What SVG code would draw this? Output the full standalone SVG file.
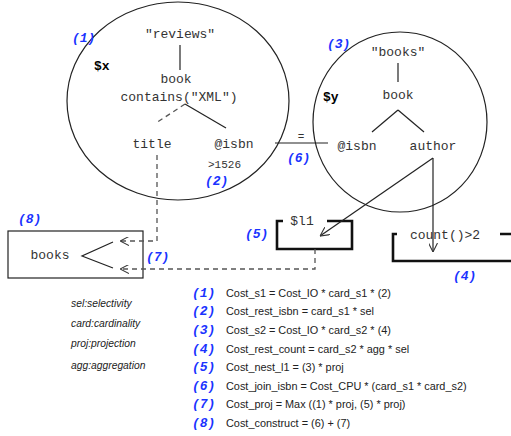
<svg xmlns="http://www.w3.org/2000/svg" width="511" height="436" viewBox="0 0 511 436">
<defs>
<marker id="arr" viewBox="0 0 10 10" refX="10" refY="5" markerWidth="9" markerHeight="9" orient="auto" markerUnits="userSpaceOnUse">
<path d="M0,0 L10,5 L0,10" fill="none" stroke="#333" stroke-width="1.2"/>
</marker>
</defs>
<style>
.m{font-family:"Liberation Mono",monospace;font-size:13px;fill:#333}
.ms{font-family:"Liberation Mono",monospace;font-size:11px;fill:#333}
.var{font-family:"Liberation Mono",monospace;font-size:13px;font-weight:bold;fill:#000}
.lbl{font-family:"Liberation Mono",monospace;font-size:13px;font-weight:bold;font-style:italic;fill:#1a33ff}
.leg{font-family:"Liberation Sans",Arial,sans-serif;font-size:10.3px;font-style:italic;fill:#222}
.eq{font-family:"Liberation Sans",Arial,sans-serif;font-size:10.9px;fill:#222}
.ln{stroke:#222;stroke-width:1.2;fill:none}
.dash{stroke:#555;stroke-width:1.3;fill:none;stroke-dasharray:5,4}
.box{stroke:#111;stroke-width:2.6;fill:none}
</style>
<rect width="511" height="436" fill="#fff"/>

<g id="s1">
<ellipse cx="178" cy="101" rx="111" ry="99" class="ln"/>
<text x="72" y="42" class="lbl">(1)</text>
<text x="94" y="70" class="var">$x</text>
<text x="180" y="38" class="m" text-anchor="middle">"reviews"</text>
<line x1="180" y1="45" x2="180" y2="70" class="ln"/>
<text x="176" y="83" class="m" text-anchor="middle">book</text>
<text x="179" y="101" class="m" font-size="12.5" text-anchor="middle">contains("XML")</text>
<line x1="185" y1="104" x2="156" y2="123" class="dash" stroke-dasharray="4,4"/>
<line x1="185" y1="104" x2="226" y2="128" class="ln"/>
<text x="152" y="148" class="m" text-anchor="middle">title</text>
<text x="234" y="148" class="m" text-anchor="middle">@isbn</text>
<text x="208" y="168" class="ms">&gt;1526</text>
<text x="205" y="185" class="lbl">(2)</text>
</g>

<g id="s2">
<ellipse cx="400" cy="122" rx="87" ry="90" class="ln"/>
<text x="327" y="48" class="lbl">(3)</text>
<text x="323" y="101" class="var">$y</text>
<text x="398" y="56" class="m" text-anchor="middle">"books"</text>
<line x1="398" y1="63" x2="398" y2="82" class="ln"/>
<text x="398" y="99" class="m" text-anchor="middle">book</text>
<line x1="398" y1="110" x2="372" y2="132" class="ln"/>
<line x1="398" y1="110" x2="424" y2="132" class="ln"/>
<text x="357" y="150" class="m" text-anchor="middle">@isbn</text>
<text x="433" y="150" class="m" text-anchor="middle">author</text>
</g>

<g id="join">
<line x1="275" y1="143" x2="328" y2="143" class="ln"/>
<text x="301" y="140" class="ms" font-size="9" text-anchor="middle">=</text>
<text x="287" y="162" class="lbl">(6)</text>
</g>

<g id="nest">
<path d="M283,221 L277,221 L277,249 L352,249 L352,221 L327,221" class="box"/>
<text x="302" y="225" class="m" text-anchor="middle">$l1</text>
<text x="245" y="238" class="lbl">(5)</text>
</g>

<g id="count">
<path d="M397,234 L393,234 L393,261 L511,261 M500,234 L511,234" class="box"/>
<text x="445" y="239" class="m" font-size="14" text-anchor="middle">count()&gt;2</text>
<text x="453" y="280" class="lbl">(4)</text>
</g>

<g id="construct">
<rect x="8" y="231" width="135" height="47" fill="none" stroke="#222" stroke-width="1.2"/>
<text x="50" y="259" class="m" text-anchor="middle">books</text>
<polyline points="113,242 82,256 113,268" class="ln"/>
<text x="18" y="223" class="lbl">(8)</text>
<text x="146" y="261" class="lbl">(7)</text>
</g>

<g id="connectors">
<line x1="433" y1="158" x2="320" y2="236" class="ln" marker-end="url(#arr)"/>
<line x1="433" y1="158" x2="433" y2="252" class="ln" marker-end="url(#arr)"/>
<polyline points="157,155 157,241 120,241" class="dash" marker-end="url(#arr)"/>
<polyline points="315,249 315,269 120,269" class="dash" marker-end="url(#arr)"/>
</g>

<g id="legend">
<text x="71" y="307" class="leg">sel:selectivity</text>
<text x="71" y="327" class="leg">card:cardinality</text>
<text x="71" y="347" class="leg">proj:projection</text>
<text x="71" y="369" class="leg">agg:aggregation</text>
</g>

<g id="costs">
<text x="192" y="297" class="lbl">(1)</text><text x="226" y="297" class="eq">Cost_s1 = Cost_IO * card_s1 * (2)</text>
<text x="192" y="315" class="lbl">(2)</text><text x="226" y="315" class="eq">Cost_rest_isbn = card_s1 * sel</text>
<text x="192" y="334" class="lbl">(3)</text><text x="226" y="334" class="eq">Cost_s2 = Cost_IO * card_s2 * (4)</text>
<text x="192" y="353" class="lbl">(4)</text><text x="226" y="353" class="eq">Cost_rest_count = card_s2 * agg * sel</text>
<text x="192" y="371" class="lbl">(5)</text><text x="226" y="371" class="eq">Cost_nest_l1 = (3) * proj</text>
<text x="192" y="390" class="lbl">(6)</text><text x="226" y="390" class="eq">Cost_join_isbn = Cost_CPU * (card_s1 * card_s2)</text>
<text x="192" y="408" class="lbl">(7)</text><text x="226" y="408" class="eq">Cost_proj = Max ((1) * proj, (5) * proj)</text>
<text x="192" y="427" class="lbl">(8)</text><text x="226" y="427" class="eq">Cost_construct = (6) + (7)</text>
</g>
</svg>
